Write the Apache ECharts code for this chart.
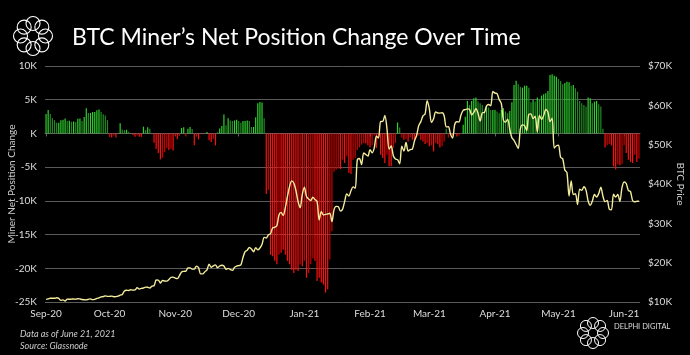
<!DOCTYPE html>
<html><head><meta charset="utf-8">
<script src="https://cdn.jsdelivr.net/npm/echarts@6/dist/echarts.min.js"></script>
<style>html,body{margin:0;padding:0;background:#000}#c{width:690px;height:355px}</style>
</head><body><div id="c"></div><script>
// ---- data ----
const startDate = [2020, 8, 14]; // 14 Sep 2020, daily through 21 Jun 2021
const dayCount = 281;
const monthNames = ['Jan','Feb','Mar','Apr','May','Jun','Jul','Aug','Sep','Oct','Nov','Dec'];
const netTicks = [-25000, -20000, -15000, -10000, -5000, 0, 5000, 10000];
const priceTicks = [10000, 20000, 30000, 40000, 50000, 60000, 70000];
const netPosition = [
 2890,3460,2890,2260,1970,1590,1590,1970,2020,2210,1830,1880,1730,1780,1680,2160,2210,1830,2450,3750,3030,3030,3170,3170,3420,3560,3170,2840,2650,1970,
 -500,-600,-300,-600,0,1500,600,500,550,250,0,-250,-490,-300,-490,-490,1000,500,900,700,0,-1400,-2300,-2900,-3850,-3600,-2800,-2200,-2450,-2300,-2550,-350,-850,-350,800,900,-450,700,950,650,-1770,
 -500,-890,0,-100,0,200,-1000,-1280,-790,-1770,
 150,720,1110,2790,1200,2260,1920,1830,1920,2020,1830,1590,1830,1830,1920,1830,960,960,
 2400,4470,4670,4570,2260,
 -9000,-8400,-18000,-18200,-18900,-19400,-18000,-17700,-17200,-18000,-18900,-19400,-20200,-20700,-20200,-20400,-19400,-19700,-18900,
 -21400,-20700,-19400,-18500,-18900,-21900,-21400,-22100,-22400,-23600,-23100,-18700,-14500,
 -5700,-5400,-5200,-5260,-3890,-4380,-3400,-5850,-6000,-3890,-3640,-2460,-2070,-1670,-1430,
 -1480,-1770,-2070,-1770,-300,-2160,-590,-3150,-3640,-4380,-3150,-4870,-4870,-2160,-1430,1620,890,
 -590,-940,-790,-1180,-590,-940,-1180,-490,-300,-940,-1180,-1580,-1430,-1920,-1770,-2660,-1430,-1580,-2070,-1920,-1180,700,-590,
 -200,-300,0,-440,-300,-100,
 1280,2460,4820,4230,4820,5210,5310,4720,4480,4230,3250,3990,
 3840,3490,3490,3490,3250,3000,3490,3740,3250,3000,3340,4620,7180,7820,7280,6940,6790,7080,7080,6790,4620,4970,4720,5310,5120,5610,5800,5950,6300,8660,8760,8560,8410,8070,7770,7280,7480,7670,7580,7080,7180,6690,6200,4820,4480,4230,3990,5310,5210,4480,4720,4820,4330,3990,690,
 -2070,-1770,-1570,-1770,-4870,-5360,-4620,-4720,-4530,-1770,-2900,-3890,-4230,-4380,-3150,-4230,-3700
];
const btcPrice = [
 10680,10790,10955,10940,10935,11080,10920,10420,10530,10240,10740,10690,10725,10775,10710,10845,10780,
 10620,10570,10550,10670,10790,10600,10670,10925,11055,11300,11380,11555,11425,11430,11500,11320,11360,11480,11745,11915,12820,12970,12930,13110,13030,13070,13640,13270,13460,13560,13780,
 13740,13550,14030,14130,15580,15570,14830,15480,15330,15300,15700,16280,16320,16070,15950,16720,17650,17800,17820,18660,18680,18370,18360,19110,18730,17150,17140,17720,18180,19630,
 18800,19200,19450,18700,19150,19360,19170,18320,18550,18250,18030,18800,19140,19250,19430,21310,22800,23140,23870,23480,22745,23820,23240,23730,24660,26440,26280,27080,27360,28840,29000,
 29370,32130,32780,31970,33990,36820,39370,40800,40250,38350,35570,33920,37320,39190,36830,36180,35790,36630,36070,35550,30830,33000,32100,32290,32370,32570,30430,33470,34320,34270,33110,
 33540,35510,37470,36930,38290,39260,38900,46200,46480,44920,47910,47500,47100,48720,47940,49200,52150,51680,55890,55920,57410,54090,48890,49680,47170,46340,46190,45140,
 49630,48380,50540,48370,48760,48880,50970,52380,54880,55860,57330,57810,61200,59160,55670,56570,58310,58060,58030,58100,57350,54530,54540,52710,51700,55140,55840,55780,57630,58730,58920,
 59100,59000,57550,58190,59130,57990,56000,58090,58190,59790,60200,59890,63500,63110,62990,61450,60500,56220,55720,56470,53900,51760,51090,50050,49000,54020,55030,54820,53560,57750,
 57830,56630,57210,53240,57470,56430,57400,58930,58280,55860,56750,49150,49720,49880,46760,46430,43540,42910,36960,40780,37300,37530,34770,38700,38400,39290,38440,35690,34620,35680,37340,
 36690,37580,39190,36880,35520,35800,33560,33420,37390,36690,37340,35550,39100,40520,40140,38350,38090,35820,35480,35600,35600
];
// ---- build ----
const dates = [];
const t0 = Date.UTC(startDate[0], startDate[1], startDate[2]);
for (let i = 0; i < dayCount; i++) dates.push(new Date(t0 + i * 86400000).toISOString().slice(0, 10));
const isLabelDay = (idx) => dates[idx].slice(8) === '14';
const fmtMonth = (v) => monthNames[+v.slice(5, 7) - 1] + '-' + v.slice(2, 4);
const barColor = (i) => {
  const v = netPosition[i], p = i > 0 ? netPosition[i - 1] : 0;
  const bright = Math.abs(v) >= Math.abs(p) * 0.97;
  if (v >= 0) return bright ? '#2fd02f' : '#228a22';
  return bright ? '#ff0f0f' : '#cc0000';
};
const FONT = 'Lato';
const chart = echarts.init(document.getElementById('c'), null, {renderer: 'canvas'});
function logo(cx, cy, R, r, lw) {
  const kids = [];
  for (let k = 0; k < 8; k++) {
    const a = k * Math.PI / 4;
    kids.push({type: 'circle', shape: {cx: cx + R * Math.cos(a), cy: cy + R * Math.sin(a), r: r},
      style: {fill: 'none', stroke: '#fff', lineWidth: lw}});
  }
  return kids;
}
chart.setOption({
  animation: false,
  backgroundColor: '#000',
  title: {text: 'BTC Miner\u2019s Net Position Change Over Time', left: 67, top: 21,
    textStyle: {color: '#fff', fontSize: 23, fontWeight: 'normal', fontFamily: FONT}},
  grid: {left: 45, right: 50, top: 66, bottom: 53, containLabel: false, outerBoundsMode: 'none'},
  xAxis: [{
    type: 'category', data: dates, boundaryGap: true,
    axisLine: {onZero: true, lineStyle: {color: '#666', width: 1}},
    axisTick: {show: true, interval: (i) => isLabelDay(i), length: 3, alignWithLabel: true, lineStyle: {color: '#666'}},
    axisLabel: {show: false}, splitLine: {show: false}
  }, {
    type: 'category', data: dates, boundaryGap: true, position: 'bottom',
    axisLine: {show: false, onZero: false}, axisTick: {show: false},
    axisLabel: {interval: (i) => isLabelDay(i), formatter: fmtMonth, color: '#ddd', fontSize: 10, fontFamily: FONT, margin: 7}
  }],
  yAxis: [{
    type: 'value', min: netTicks[0], max: netTicks[netTicks.length - 1], interval: 5000,
    name: 'Miner Net Position Change', nameLocation: 'middle', nameGap: 28, nameMoveOverlap: false,
    nameTextStyle: {color: '#ccc', fontSize: 10, fontFamily: FONT},
    axisLine: {show: false}, axisTick: {show: false},
    axisLabel: {color: '#ddd', fontSize: 10, fontFamily: FONT, margin: 8,
      formatter: (v) => (v === 0 ? '' : (v / 1000)) + 'K'},
    splitLine: {lineStyle: {color: '#5a5a5a', width: 1}}
  }, {
    type: 'value', position: 'right', min: priceTicks[0], max: priceTicks[priceTicks.length - 1], interval: 10000,
    name: 'BTC Price', nameLocation: 'middle', nameGap: 35, nameRotate: -90, nameMoveOverlap: false,
    nameTextStyle: {color: '#ccc', fontSize: 10, fontFamily: FONT},
    axisLine: {show: false}, axisTick: {show: false},
    axisLabel: {color: '#ddd', fontSize: 10, fontFamily: FONT, margin: 8, formatter: (v) => '$' + (v / 1000) + 'K'},
    splitLine: {show: false}
  }],
  series: [{
    type: 'bar', xAxisIndex: 0, yAxisIndex: 0, data: netPosition, barWidth: 1.2,
    itemStyle: {color: (p) => barColor(p.dataIndex)}
  }, {
    type: 'line', xAxisIndex: 0, yAxisIndex: 1, data: btcPrice, smooth: 0.3, showSymbol: false, z: 5,
    lineStyle: {color: '#f3ec9b', width: 1.4}
  }],
  graphic: [
    {type: 'group', children: logo(33, 36, 12.5, 7, 1.1)},
    {type: 'group', children: logo(593, 333, 10, 5.5, 1)},
    {type: 'text', left: 614, top: 323, style: {text: 'DELPHI DIGITAL', fill: '#ddd', font: '7.5px ' + FONT}},
    {type: 'text', left: 20, top: 330, style: {text: 'Data as of June 21, 2021', fill: '#ccc', font: 'italic 9px ' + FONT}},
    {type: 'text', left: 20, top: 342, style: {text: 'Source: Glassnode', fill: '#ccc', font: 'italic 9px ' + FONT}}
  ]
});
</script></body></html>
